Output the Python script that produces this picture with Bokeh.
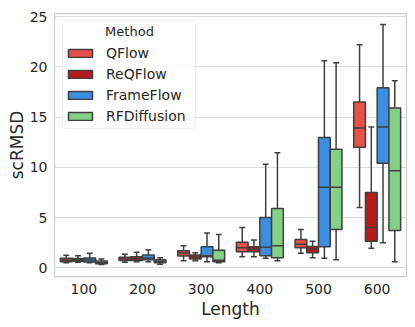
from bokeh.plotting import figure
from bokeh.models import (ColumnDataSource, FactorRange, Range1d, Legend, LegendItem, Label,
                          FixedTicker, BoxAnnotation)
from bokeh.transform import dodge
from bokeh.embed import file_html
from bokeh.resources import INLINE

lengths = ["100", "200", "300", "400", "500", "600"]
methods = ["QFlow", "ReQFlow", "FrameFlow", "RFDiffusion"]
colors = ["#e8514a", "#b71c1c", "#3b8fe3", "#84d084"]

# box statistics per method: whisker low, q1, median, q3, whisker high
qflow_lo = [0.50, 0.55, 0.70, 1.10, 1.45, 6.0]
qflow_q1 = [0.60, 0.72, 1.18, 1.60, 2.00, 12.0]
qflow_med = [0.75, 0.88, 1.48, 2.00, 2.35, 13.9]
qflow_q3 = [0.95, 1.05, 1.68, 2.55, 2.80, 16.5]
qflow_hi = [1.25, 1.35, 2.20, 4.00, 3.80, 22.2]

reqflow_lo = [0.55, 0.60, 0.70, 1.10, 1.00, 1.95]
reqflow_q1 = [0.65, 0.72, 0.88, 1.60, 1.50, 2.65]
reqflow_med = [0.80, 0.90, 1.05, 1.85, 1.88, 4.00]
reqflow_q3 = [0.92, 1.10, 1.28, 2.10, 2.12, 7.50]
reqflow_hi = [1.20, 1.55, 1.50, 2.75, 2.65, 14.0]

frameflow_lo = [0.50, 0.60, 0.60, 0.95, 0.95, 2.5]
frameflow_q1 = [0.58, 0.80, 1.10, 1.20, 2.10, 10.4]
frameflow_med = [0.78, 0.98, 1.20, 2.05, 8.00, 14.0]
frameflow_q3 = [0.98, 1.28, 2.10, 5.00, 12.95, 17.9]
frameflow_hi = [1.45, 1.80, 3.45, 10.3, 20.6, 24.2]

rfdiff_lo = [0.32, 0.35, 0.50, 0.70, 0.80, 0.6]
rfdiff_q1 = [0.40, 0.50, 0.60, 1.00, 3.80, 3.7]
rfdiff_med = [0.52, 0.65, 0.75, 2.20, 8.00, 9.65]
rfdiff_q3 = [0.68, 0.80, 1.75, 5.90, 11.8, 15.9]
rfdiff_hi = [0.88, 1.00, 3.30, 11.45, 20.4, 18.6]

stats = [
    (qflow_lo, qflow_q1, qflow_med, qflow_q3, qflow_hi),
    (reqflow_lo, reqflow_q1, reqflow_med, reqflow_q3, reqflow_hi),
    (frameflow_lo, frameflow_q1, frameflow_med, frameflow_q3, frameflow_hi),
    (rfdiff_lo, rfdiff_q1, rfdiff_med, rfdiff_q3, rfdiff_hi),
]

edge = "#3f3f3f"
txt = "#262626"
p = figure(width=415, height=327, x_range=FactorRange(factors=lengths),
           y_range=Range1d(-0.87, 25.3), output_backend="svg", toolbar_location=None,
           min_border_left=54, min_border_right=9, min_border_top=13, min_border_bottom=51)

p.outline_line_color = "#cccccc"
p.outline_line_width = 1.25
p.xgrid.grid_line_color = None
p.ygrid.grid_line_color = "#dddddd"
p.ygrid.grid_line_width = 1
p.yaxis.ticker = FixedTicker(ticks=[0, 5, 10, 15, 20, 25])
for ax in (p.xaxis, p.yaxis):
    ax.axis_line_color = None
    ax.major_tick_line_color = None
    ax.minor_tick_line_color = None
    ax.major_tick_out = 0
    ax.major_tick_in = 0
    ax.minor_tick_out = 0
    ax.minor_tick_in = 0
    ax.major_label_text_font = "DejaVu Sans"
    ax.major_label_text_font_size = "14px"
    ax.major_label_text_color = txt
    ax.axis_label_text_font = "DejaVu Sans"
    ax.axis_label_text_font_size = "17px"
    ax.axis_label_text_font_style = "normal"
    ax.axis_label_text_color = txt
p.xaxis.axis_label = "Length"
p.yaxis.axis_label = "scRMSD"
p.xaxis.major_label_standoff = 7
p.yaxis.major_label_standoff = 7
p.xaxis.axis_label_standoff = 2
p.yaxis.axis_label_standoff = 0

offsets = [-0.3, -0.1, 0.1, 0.3]
bw = 0.2
items = []
for m, c, off, (lo, q1, med, q3, hi) in zip(methods, colors, offsets, stats):
    src = ColumnDataSource(dict(x=lengths, lo=lo, q1=q1, med=med, q3=q3, hi=hi))
    xc = dodge("x", off, range=p.x_range)
    # whiskers
    p.segment(x0=xc, y0="q3", x1=xc, y1="hi", source=src, line_color=edge, line_width=1.5)
    p.segment(x0=xc, y0="lo", x1=xc, y1="q1", source=src, line_color=edge, line_width=1.5)
    # caps
    p.segment(x0=dodge("x", off - bw / 4, range=p.x_range), y0="hi",
              x1=dodge("x", off + bw / 4, range=p.x_range), y1="hi",
              source=src, line_color=edge, line_width=1.5)
    p.segment(x0=dodge("x", off - bw / 4, range=p.x_range), y0="lo",
              x1=dodge("x", off + bw / 4, range=p.x_range), y1="lo",
              source=src, line_color=edge, line_width=1.5)
    # box
    r = p.vbar(x=xc, width=bw, bottom="q1", top="q3", source=src,
               fill_color=c, line_color=edge, line_width=1.5)
    # median
    p.segment(x0=dodge("x", off - bw / 2, range=p.x_range), y0="med",
              x1=dodge("x", off + bw / 2, range=p.x_range), y1="med",
              source=src, line_color=edge, line_width=1.5)
    items.append(LegendItem(label=m, renderers=[r]))

# legend frame drawn behind the legend entries
p.add_layout(BoxAnnotation(left=8, right=141, top=256, bottom=148,
                           left_units="screen", right_units="screen",
                           top_units="screen", bottom_units="screen",
                           fill_color="white", fill_alpha=0.8,
                           line_color="#cccccc", line_width=1, border_radius=3,
                           level="annotation"))

legend = Legend(items=items, location="top_left", title="Method",
                title_text_font="DejaVu Sans", title_text_font_size="13px",
                title_text_alpha=0, title_standoff=6,
                label_text_font="DejaVu Sans", label_text_font_size="14px",
                label_text_color=txt,
                glyph_width=30, glyph_height=10, label_height=16, spacing=5,
                label_standoff=11, padding=5, margin=11,
                border_line_color=None, background_fill_alpha=0)
p.add_layout(legend)

p.add_layout(Label(x=75, y=245, x_units="screen", y_units="screen", text="Method",
                   text_font="DejaVu Sans", text_font_size="13px", text_color=txt,
                   text_align="center", text_baseline="middle"))

open("out.html", "w").write(file_html(p, INLINE))
